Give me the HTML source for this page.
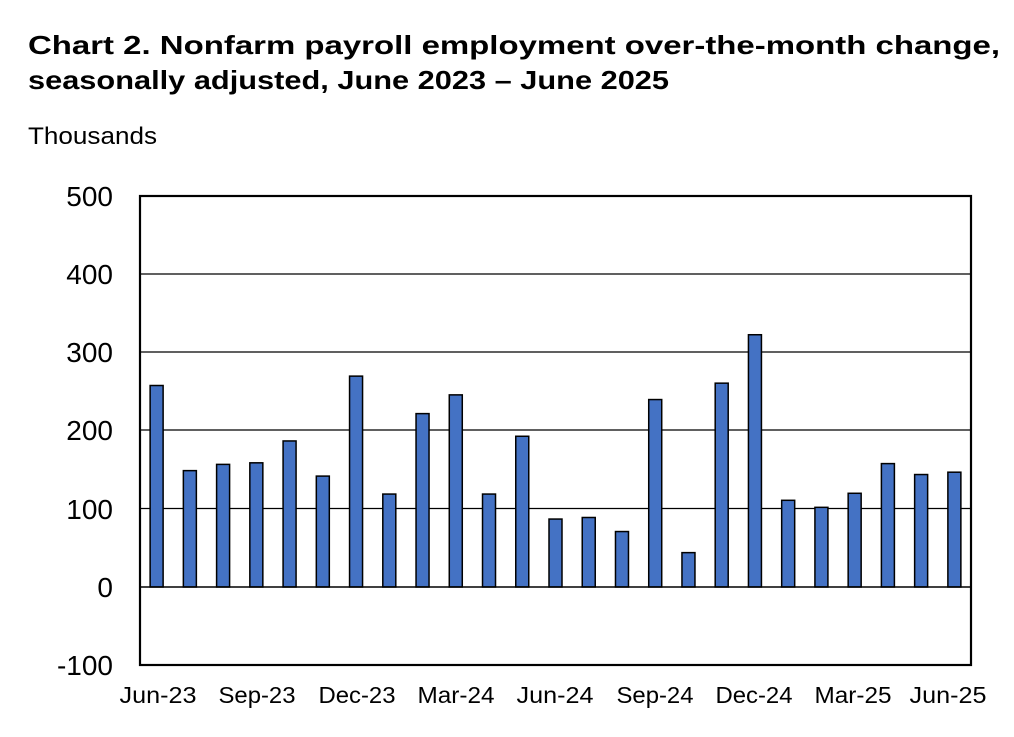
<!DOCTYPE html>
<html><head><style>
body{margin:0;background:#fff;width:1014px;height:732px;overflow:hidden;font-family:"Liberation Sans",Arial,sans-serif}
</style></head><body>
<svg width="1014" height="732" xmlns="http://www.w3.org/2000/svg" font-family="Liberation Sans, Arial, sans-serif">
<text x="28" y="54" font-size="26" font-weight="bold" textLength="972" lengthAdjust="spacingAndGlyphs">Chart 2. Nonfarm payroll employment over-the-month change,</text>
<text x="28" y="89" font-size="26" font-weight="bold" textLength="641" lengthAdjust="spacingAndGlyphs">seasonally adjusted, June 2023 – June 2025</text>
<text x="28" y="144" font-size="24" textLength="129" lengthAdjust="spacingAndGlyphs">Thousands</text>
<g stroke="#000" stroke-width="1.2">
<line x1="140" y1="274" x2="971" y2="274"/>
<line x1="140" y1="352" x2="971" y2="352"/>
<line x1="140" y1="430" x2="971" y2="430"/>
<line x1="140" y1="508.5" x2="971" y2="508.5"/>
</g>
<g id="bars" fill="#4472C4" stroke="#000" stroke-width="1.5"></g>
<line x1="140" y1="587" x2="971" y2="587" stroke="#000" stroke-width="1.5"/>
<rect x="140" y="196" width="831" height="469" fill="none" stroke="#000" stroke-width="2.2"/>
<g font-size="28" text-anchor="end">
<text x="113" y="206">500</text>
<text x="113" y="284">400</text>
<text x="113" y="362">300</text>
<text x="113" y="440">200</text>
<text x="113" y="519">100</text>
<text x="113" y="597">0</text>
<text x="113" y="675">-100</text>
</g>
<g font-size="23" id="xl"></g>
<script>
var v=[258,149,157,159,187,142,270,119,222,246,119,193,87,89,71,240,44,261,323,111,102,120,158,144,147];
var g=document.getElementById('bars'),ns="http://www.w3.org/2000/svg",s=831/25,k=0.781;
v.forEach(function(d,i){var c=140+s*(i+0.5);var r=document.createElementNS(ns,'rect');
r.setAttribute('x',c-6.5);r.setAttribute('width',13);r.setAttribute('y',587-d*k);r.setAttribute('height',d*k);g.appendChild(r);});
var L=["Jun-23","Sep-23","Dec-23","Mar-24","Jun-24","Sep-24","Dec-24","Mar-25","Jun-25"],C=[158,257,357,456,555,655,754,853,948],x=document.getElementById('xl');
L.forEach(function(t,j){var e=document.createElementNS(ns,'text');e.setAttribute('x',C[j]-38.5);e.setAttribute('y',703);e.setAttribute('textLength',77);e.setAttribute('lengthAdjust','spacingAndGlyphs');e.textContent=t;x.appendChild(e);});
</script>
</svg>
</body></html>
